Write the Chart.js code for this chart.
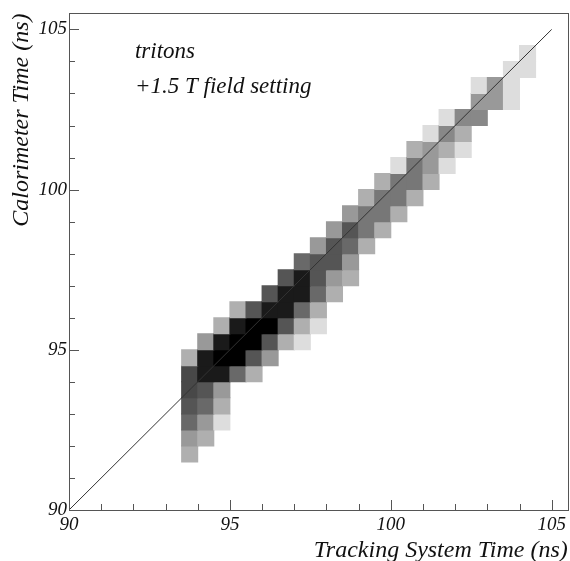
<!DOCTYPE html>
<html lang="en">
<head>
<meta charset="UTF-8">
<title>Calorimeter vs tracking time</title>
<script src="https://cdn.jsdelivr.net/npm/chart.js"></script>
<style>
  body { margin: 0; background: #fff; }
  canvas { display: block; }
</style>
<script>
  // 2D histogram, 0.5 ns x 0.5 ns bins.
  // one row per y bin: lower y edge, lower x edge of the first filled bin, then counts (relative, 1..10)
  const yBins = [91.5, 92, 92.5, 93, 93.5, 94, 94.5, 95, 95.5, 96, 96.5, 97, 97.5,
                 98, 98.5, 99, 99.5, 100, 100.5, 101, 101.5, 102, 102.5, 103, 103.5, 104]
  const xStart = [93.5, 93.5, 93.5, 93.5, 93.5, 93.5, 93.5, 94, 94.5, 95, 96, 96.5, 97,
                  97.5, 98, 98.5, 99, 99.5, 100, 100.5, 101, 101.5, 102.5, 102.5, 103.5, 104]
  const counts = [
    [2],
    [3, 2],
    [6, 3, 1],
    [7, 6, 2],
    [8, 7, 3],
    [8, 9, 9, 6, 2],
    [2, 9, 10, 10, 7, 3],
    [3, 9, 10, 10, 7, 2, 1],
    [2, 9, 10, 10, 7, 2, 1],
    [2, 7, 9, 9, 6, 2],
    [7, 9, 9, 6, 2],
    [7, 9, 7, 3, 2],
    [6, 7, 7, 3],
    [3, 7, 6, 2],
    [3, 7, 5, 2],
    [3, 5, 5, 2],
    [2, 5, 5, 2],
    [2, 5, 5, 2],
    [1, 5, 3, 1],
    [2, 3, 2, 1],
    [1, 4, 2],
    [1, 4, 4],
    [3, 3, 1],
    [1, 3, 1],
    [1, 1],
    [1]
  ]
  const binSize = 0.5

  // y = x reference line
  const diagX = [90, 105]
  const diagY = [90, 105]

  const noteLines = ['tritons', '+1.5 T field setting']

  // grey level for each count
  const grays = [255, 221, 175, 153, 136, 119, 105, 85, 72, 26, 0]
  const gray = z => `rgb(${grays[z]},${grays[z]},${grays[z]})`

  const serif = "'Liberation Serif', 'Times New Roman', serif"

  window.onload = () => {
    const cells = []
    yBins.forEach((y, r) => {
      counts[r].forEach((z, j) => {
        cells.push({ x: xStart[r] + binSize * j + binSize / 2, y: [y, y + binSize], z })
      })
    })

    // frame, inward ticks and the text box
    const frame = {
      id: 'frame',
      afterDatasetsDraw(chart) {
        const { ctx, chartArea: a, scales: { x, y } } = chart
        ctx.save()
        ctx.strokeStyle = '#555'
        ctx.lineWidth = 1
        ctx.strokeRect(Math.round(a.left) + 0.5, Math.round(a.top) + 0.5,
          Math.round(a.right - a.left), Math.round(a.bottom - a.top))

        ctx.beginPath()
        x.ticks.forEach(t => {
          const px = Math.round(x.getPixelForValue(t.value)) + 0.5
          const len = t.value % 5 === 0 ? 10 : 6
          ctx.moveTo(px, a.bottom)
          ctx.lineTo(px, a.bottom - len)
        })
        y.ticks.forEach(t => {
          const py = Math.round(y.getPixelForValue(t.value)) + 0.5
          const len = t.value % 5 === 0 ? 10 : 6
          ctx.moveTo(a.left, py)
          ctx.lineTo(a.left + len, py)
        })
        ctx.stroke()

        ctx.fillStyle = '#111'
        ctx.font = `italic 23px ${serif}`
        ctx.textBaseline = 'alphabetic'
        ctx.fillText(noteLines[0], x.getPixelForValue(92.05), y.getPixelForValue(104.12))
        ctx.fillText(noteLines[1], x.getPixelForValue(92.05), y.getPixelForValue(103.03))
        ctx.restore()
      }
    }

    new Chart(document.getElementById('viz'), {
      type: 'bar',
      data: {
        datasets: [
          {
            type: 'line',
            data: diagX.map((v, i) => ({ x: v, y: diagY[i] })),
            borderColor: '#333',
            borderWidth: 1,
            pointRadius: 0,
            order: 0
          },
          {
            data: cells,
            backgroundColor: c => c.raw ? gray(c.raw.z) : '#fff',
            borderWidth: 0,
            barPercentage: 1,
            categoryPercentage: 1,
            inflateAmount: 0.5,
            order: 1
          }
        ]
      },
      options: {
        responsive: false,
        animation: false,
        layout: { padding: { top: 10, right: 2, left: 0, bottom: 0 } },
        plugins: { legend: { display: false }, tooltip: { enabled: false } },
        scales: {
          x: {
            type: 'linear',
            min: 90,
            max: 105.5,
            offset: false,
            grid: { display: false, drawTicks: false },
            border: { display: false },
            ticks: {
              stepSize: 1,
              includeBounds: false,
              autoSkip: false,
              maxRotation: 0,
              padding: 4,
              color: '#111',
              font: { family: serif, style: 'italic', size: 19 },
              callback: v => v % 5 === 0 ? String(v) : ''
            },
            title: {
              display: true,
              text: 'Tracking System Time (ns)',
              align: 'end',
              color: '#111',
              padding: { bottom: 0 },
              font: { family: serif, style: 'italic', size: 24, lineHeight: 0.9 }
            },
            afterFit: s => { s.height = 51 }
          },
          y: {
            type: 'linear',
            min: 90,
            max: 105.5,
            grid: { display: false, drawTicks: false },
            border: { display: false },
            ticks: {
              stepSize: 1,
              includeBounds: false,
              autoSkip: false,
              padding: 2,
              color: '#111',
              font: { family: serif, style: 'italic', size: 19 },
              callback: v => v % 5 === 0 ? String(v) : ''
            },
            title: {
              display: true,
              text: 'Calorimeter Time (ns)',
              align: 'end',
              color: '#111',
              padding: { top: 11 },
              font: { family: serif, style: 'italic', size: 24, lineHeight: 0.9 }
            },
            afterFit: s => { s.width = 69 }
          }
        }
      },
      plugins: [frame]
    })
  }
</script>
</head>
<body>
  <canvas id="viz" width="570" height="561"></canvas>
</body>
</html>
